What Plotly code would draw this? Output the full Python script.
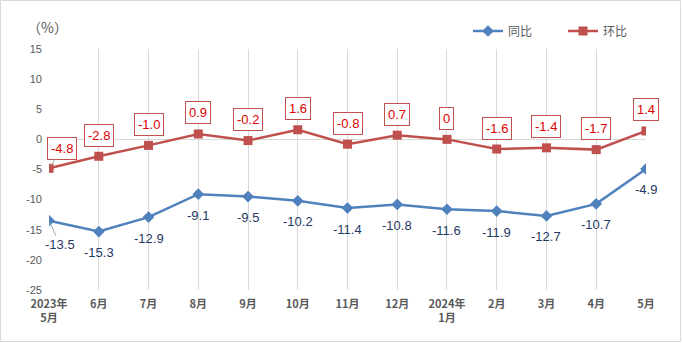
import plotly.graph_objects as go

categories = ["2023年<br>5月", "6月", "7月", "8月", "9月", "10月", "11月", "12月",
              "2024年<br>1月", "2月", "3月", "4月", "5月"]
yoy = [-13.5, -15.3, -12.9, -9.1, -9.5, -10.2, -11.4, -10.8, -11.6, -11.9, -12.7, -10.7, -4.9]
mom = [-4.8, -2.8, -1.0, 0.9, -0.2, 1.6, -0.8, 0.7, 0, -1.6, -1.4, -1.7, 1.4]
mom_text = ["-4.8", "-2.8", "-1.0", "0.9", "-0.2", "1.6", "-0.8", "0.7", "0", "-1.6", "-1.4", "-1.7", "1.4"]
y_ticks = [15, 10, 5, 0, -5, -10, -15, -20, -25]

W, H = 682, 343
L, R, T, B = 49, 36, 49, 53
pw, ph = W - L - R, H - T - B

BLUE = "#4F81BD"
RED = "#C0504D"
GRID = "#D9D9D9"
TICK = "#595959"
FONT = "Noto Sans CJK SC"
NUMFONT = "Liberation Sans, Noto Sans CJK SC"

xs = list(range(len(categories)))

fig = go.Figure()
fig.add_trace(go.Scatter(x=xs, y=yoy, name="同比", mode="lines+markers",
                         line=dict(color=BLUE, width=2.5),
                         marker=dict(symbol="diamond", size=9, color=BLUE)))
fig.add_trace(go.Scatter(x=xs, y=mom, name="环比", mode="lines+markers",
                         line=dict(color=RED, width=2.5),
                         marker=dict(symbol="square", size=9, color=RED)))

ann = []
for i, (x, v) in enumerate(zip(xs, yoy)):
    if i == 0:
        ann.append(dict(x=x, y=v, xref="x", yref="y", text=f"{v}", showarrow=True,
                        ax=11, ay=24, arrowhead=0, arrowwidth=1, arrowcolor="#A6A6A6",
                        standoff=3, font=dict(color="#1F3864", size=13, family=NUMFONT)))
    else:
        ann.append(dict(x=x, y=v, xref="x", yref="y", text=f"{v}", showarrow=False,
                        yshift=-21, font=dict(color="#1F3864", size=13, family=NUMFONT)))
for i, (x, v) in enumerate(zip(xs, mom)):
    common = dict(x=x, y=v, xref="x", yref="y", text=mom_text[i],
                  bordercolor=RED, borderwidth=1, borderpad=3, bgcolor="white",
                  font=dict(color="#E00000", size=13, family=NUMFONT))
    if i == 0:
        ann.append(dict(**common, showarrow=True, ax=13, ay=-20, arrowhead=0,
                        arrowwidth=1, arrowcolor="#A6A6A6", standoff=3))
    else:
        ann.append(dict(**common, showarrow=False, yshift=21))

ann.append(dict(x=(47 - L) / pw, y=1 + (T - 27) / ph, xref="paper", yref="paper",
                xanchor="center", yanchor="middle",
                text="（%）", showarrow=False, font=dict(color=TICK, size=14, family=FONT)))

fig.update_layout(
    width=W, height=H, margin=dict(l=L, r=R, t=T, b=B, autoexpand=False),
    paper_bgcolor="white", plot_bgcolor="white",
    font=dict(family=FONT, color=TICK),
    showlegend=True,
    legend=dict(orientation="h", x=(468 - L) / pw, y=1 + (T - 31) / ph,
                xanchor="left", yanchor="middle", font=dict(size=12, color=TICK, family=FONT),
                entrywidth=50, entrywidthmode="pixels", tracegroupgap=0,
                bgcolor="rgba(0,0,0,0)"),
    annotations=ann,
    shapes=[dict(type="rect", xref="paper", yref="paper",
                 x0=(0.5 - L) / pw, x1=(W - 1.5 - L) / pw,
                 y0=-(H - 1.5 - T - ph) / ph, y1=1 + (T - 0.5) / ph,
                 line=dict(color=GRID, width=1), layer="below")],
    xaxis=dict(range=[-0.001, 12.001], tickvals=xs, ticktext=[f"<b>{c}</b>" for c in categories],
               showgrid=True, gridcolor=GRID, gridwidth=1, zeroline=False, showline=False,
               tickfont=dict(size=11, color=TICK, family=FONT), ticks="",
               ticklabelstandoff=6, fixedrange=True),
    yaxis=dict(range=[-25, 15], tickvals=y_ticks, ticktext=[str(t) for t in y_ticks],
               showgrid=False, zeroline=True, zerolinecolor=GRID, zerolinewidth=1,
               showline=False, tickfont=dict(size=11, color=TICK, family=NUMFONT),
               ticklabelstandoff=6, fixedrange=True),
)

fig.write_html("out.html")
